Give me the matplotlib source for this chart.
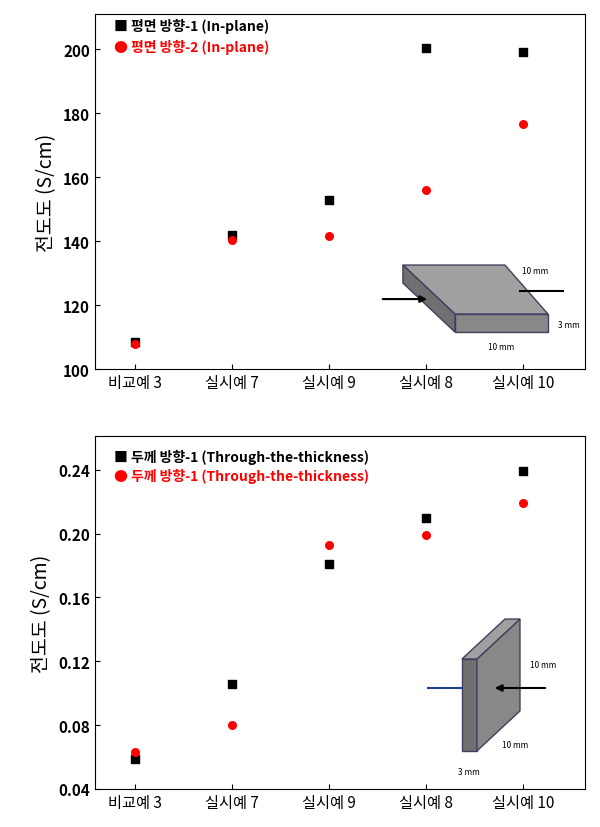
import matplotlib
matplotlib.use("Agg")
import matplotlib.pyplot as plt
from matplotlib.patches import Polygon
plt.rcParams['font.family'] = 'Noto Sans CJK KR'

categories = ["비교예 3", "실시예 7", "실시예 9", "실시예 8", "실시예 10"]
inplane_1 = [108.5, 142, 153, 200.5, 199]
inplane_2 = [108, 140.5, 141.5, 156, 176.5]
thick_1 = [0.059, 0.106, 0.181, 0.210, 0.239]
thick_2 = [0.063, 0.080, 0.193, 0.199, 0.219]
top_ticks = [100, 120, 140, 160, 180, 200]
bot_ticks = [0.04, 0.08, 0.12, 0.16, 0.20, 0.24]

fig = plt.figure(figsize=(6, 8.28), dpi=100)
ax1 = fig.add_axes([0.158, 0.553, 0.817, 0.429])
ax2 = fig.add_axes([0.158, 0.046, 0.817, 0.426])
x = list(range(len(categories)))

def style(ax, ticks, fmt, ylim):
    ax.set_xlim(-0.41, 4.64)
    ax.set_ylim(*ylim)
    ax.set_yticks(ticks)
    ax.set_yticklabels([fmt(t) for t in ticks], fontsize=11, fontweight='bold')
    ax.set_xticks(x)
    ax.set_xticklabels(categories, fontsize=11)
    ax.set_ylabel("전도도 (S/cm)", fontsize=14)
    ax.tick_params(direction='in', top=False, right=False)

ax1.scatter(x, inplane_1, marker='s', color='black', s=30, zorder=3)
ax1.scatter(x, inplane_2, marker='o', color='red', s=30, zorder=3)
style(ax1, top_ticks, lambda t: f"{t}", (100, 211))
ax1.text(0.04, 0.955, "■ 평면 방향-1 (In-plane)", transform=ax1.transAxes, fontsize=10, fontweight='bold', color='black')
ax1.text(0.04, 0.895, "● 평면 방향-2 (In-plane)", transform=ax1.transAxes, fontsize=10, fontweight='bold', color='red')

ax2.scatter(x, thick_1, marker='s', color='black', s=30, zorder=3)
ax2.scatter(x, thick_2, marker='o', color='red', s=30, zorder=3)
style(ax2, bot_ticks, lambda t: f"{t:.2f}", (0.04, 0.261))
ax2.text(0.04, 0.93, "■ 두께 방향-1 (Through-the-thickness)", transform=ax2.transAxes, fontsize=10, fontweight='bold', color='black')
ax2.text(0.04, 0.875, "● 두께 방향-1 (Through-the-thickness)", transform=ax2.transAxes, fontsize=10, fontweight='bold', color='red')

# inset 1: flat plate
T = ax1.transAxes
def px(ax, X, Y, h):
    return ((X - 95) / 490, (Y_top := None) or 0)
def tp(X, Y):
    return ((X - 95) / 490, (370 - Y) / 355)
def bp(X, Y):
    return ((X - 95) / 490, (790 - Y) / 353)
ax1.add_patch(Polygon([tp(403, 266), tp(505, 266), tp(548, 315), tp(455, 315)], closed=True, fc='#a0a0a0', ec='#404060', transform=T, zorder=4))
ax1.add_patch(Polygon([tp(403, 266), tp(455, 315), tp(455, 333), tp(403, 284)], closed=True, fc='#707070', ec='#404060', transform=T, zorder=4))
ax1.add_patch(Polygon([tp(455, 315), tp(548, 315), tp(548, 333), tp(455, 333)], closed=True, fc='#888888', ec='#404060', transform=T, zorder=4))
ax1.annotate("", xy=tp(430, 300), xytext=tp(380, 300), xycoords=T, textcoords=T,
             arrowprops=dict(arrowstyle='-|>', color='black', lw=1.5), zorder=5)
ax1.plot(*zip(tp(520, 292), tp(563, 292)), color='black', lw=1.5, transform=T, zorder=5)
ax1.text(*tp(522, 274), "10 mm", transform=T, fontsize=6, zorder=5)
ax1.text(*tp(558, 328), "3 mm", transform=T, fontsize=6, zorder=5)
ax1.text(*tp(488, 350), "10 mm", transform=T, fontsize=6, zorder=5)

# inset 2: vertical plate
T2 = ax2.transAxes
ax2.add_patch(Polygon([bp(462, 660), bp(477, 660), bp(477, 752), bp(462, 752)], closed=True, fc='#707070', ec='#404060', transform=T2, zorder=4))
ax2.add_patch(Polygon([bp(477, 660), bp(520, 620), bp(520, 712), bp(477, 752)], closed=True, fc='#888888', ec='#404060', transform=T2, zorder=4))
ax2.add_patch(Polygon([bp(462, 660), bp(505, 620), bp(520, 620), bp(477, 660)], closed=True, fc='#a0a0a0', ec='#404060', transform=T2, zorder=4))
ax2.plot(*zip(bp(428, 689), bp(462, 689)), color='#1f3f8f', lw=1.5, transform=T2, zorder=5)
ax2.annotate("", xy=bp(492, 689), xytext=bp(548, 689), xycoords=T2, textcoords=T2,
             arrowprops=dict(arrowstyle='-|>', color='black', lw=1.5), zorder=5)
ax2.text(*bp(530, 668), "10 mm", transform=T2, fontsize=6, zorder=5)
ax2.text(*bp(502, 748), "10 mm", transform=T2, fontsize=6, zorder=5)
ax2.text(*bp(458, 775), "3 mm", transform=T2, fontsize=6, zorder=5)

fig.savefig("out.png", dpi=100)
